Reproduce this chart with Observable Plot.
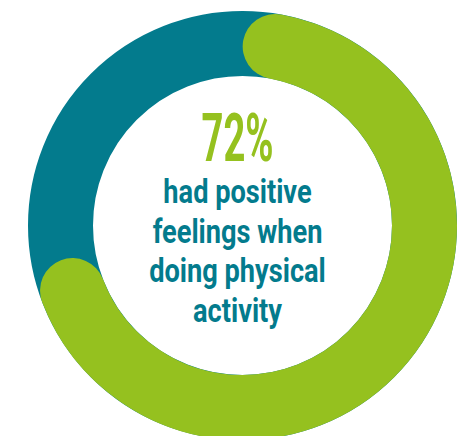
<!DOCTYPE html>
<html>
<head>
<meta charset="utf-8">
<script src="https://cdn.jsdelivr.net/npm/d3@7"></script>
<script src="https://cdn.jsdelivr.net/npm/@observablehq/plot@0.6"></script>
<style>
  html, body { margin: 0; padding: 0; background: #ffffff; }
</style>
</head>
<body>
<div id="chart"></div>
<script>
// ---- data ----
const shareLabels = ["positive"];
const shareValues = [72];            // percent
const bigLabel = ["72%"];
const captionLines = ["had positive", "feelings when", "doing physical", "activity"];

// ---- style ----
const TEAL = "#037b8d";
const GREEN = "#95c11f";
const RING_R = 182;     // mid-line radius (px)
const RING_W = 65;      // ring thickness (px)
const FONT = "Roboto, 'DejaVu Sans', sans-serif";

const rows = shareLabels.map((k, i) => ({key: k, x: 0, y: 0, v: shareValues[i]}));
const C = 2 * Math.PI * RING_R;
const cap = RING_W / 2;
const dash = shareValues[0] / 100 * C - 2 * cap;

const chart = Plot.plot({
  width: 464,
  height: 436,
  marginLeft: 20, marginRight: 0, marginTop: 14, marginBottom: 0,
  x: {domain: [-1, 1], axis: null},
  y: {domain: [-1, 1], axis: null},
  style: {background: "white"},
  marks: [
    // full background ring
    Plot.dot(rows, {x: "x", y: "y", r: RING_R, fill: "none", stroke: TEAL, strokeWidth: RING_W}),
    // value arc starting at 12 o'clock, clockwise, rounded ends
    Plot.dot(rows, {
      x: "x", y: "y", r: RING_R, fill: "none", stroke: GREEN, strokeWidth: RING_W,
      strokeLinecap: "round",
      strokeDasharray: `${dash} ${C - dash}`,
      strokeDashoffset: C / 4 - cap
    }),
    Plot.text(rows, {
      x: "x", y: "y", text: (d, i) => bigLabel[i], fill: GREEN,
      fontFamily: FONT, fontWeight: "bold", fontSize: 67,
      dx: -5, dy: -65, lineAnchor: "bottom", className: "big"
    }),
    Plot.text(rows, {
      x: "x", y: "y", text: () => captionLines.join("\n"), fill: TEAL,
      fontFamily: FONT, fontWeight: "bold", fontSize: 34, lineHeight: 1.17,
      dx: -5, dy: -51, lineAnchor: "top", className: "cap"
    })
  ]
});

// horizontally condense the lettering (condensed typeface look)
function condense(sel, k) {
  d3.select(chart).selectAll(sel).each(function() {
    const t = this.getAttribute("transform") || "";
    this.setAttribute("transform", `${t} scale(${k},1)`);
  });
}
condense(".big text", 0.57);
condense(".cap text", 0.8);

document.getElementById("chart").appendChild(chart);
</script>
</body>
</html>
